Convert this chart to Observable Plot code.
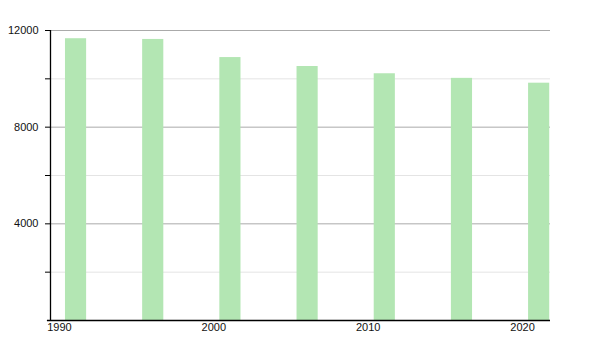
<!DOCTYPE html>
<html>
<head>
<meta charset="utf-8">
<script src="https://cdn.jsdelivr.net/npm/d3@7"></script>
<script src="https://cdn.jsdelivr.net/npm/@observablehq/plot@0.6"></script>
<style>
  html, body { margin: 0; padding: 0; background: #fff; }
  #chart svg { display: block; }
</style>
</head>
<body>
<div id="chart"></div>
<script>
const years = [1991, 1996, 2001, 2006, 2011, 2016, 2021];
const population = [11660, 11630, 10880, 10510, 10210, 10020, 9820];
const xTicks = [1990, 2000, 2010, 2020];
const yLabelTicks = [4000, 8000, 12000];
const yAllTicks = [2000, 4000, 6000, 8000, 10000, 12000];
const majorGrid = [4000, 8000, 12000];
const minorGrid = [2000, 6000, 10000];

const data = years.map((y, i) => ({year: y, value: population[i]}));

const chart = Plot.plot({
  width: 600,
  height: 350,
  marginLeft: 50,
  marginRight: 50,
  marginTop: 30,
  marginBottom: 30,
  style: {fontFamily: "'Liberation Sans', Arial, sans-serif", fontSize: "11px", color: "#111", background: "#fff"},
  x: {domain: [1989.42, 2021.81], label: null},
  y: {domain: [0, 12000], label: null},
  marks: [
    Plot.ruleY(minorGrid, {stroke: "#e4e4e4", strokeWidth: 1}),
    Plot.ruleY(majorGrid, {stroke: "#aaaaaa", strokeWidth: 1}),
    Plot.rectY(data, {
      x1: d => d.year - 0.61,
      x2: d => d.year + 0.76,
      y: "value",
      fill: "#b3e6b3"
    }),
    Plot.axisY(yAllTicks, {tickSize: 5, tickFormat: () => "", stroke: "#000"}),
    Plot.axisY(yLabelTicks, {tickSize: 0, tickPadding: 12, tickFormat: d => String(d), fill: "#111"}),
    Plot.ruleX([1989.42], {stroke: "#000", strokeWidth: 1.3}),
    Plot.ruleY([0], {x1: 1989.22, x2: 2021.81, stroke: "#000", strokeWidth: 1.3}),
    Plot.axisX(xTicks, {tickSize: 0, tickPadding: 3, tickFormat: d => String(d), fill: "#111"})
  ]
});
document.getElementById("chart").appendChild(chart);
</script>
</body>
</html>
